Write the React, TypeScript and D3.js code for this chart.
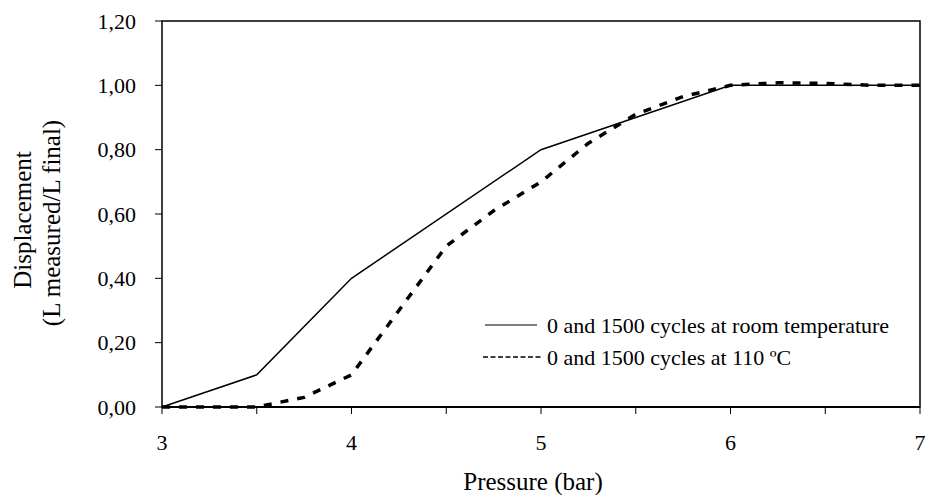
import React from "react";
import * as d3 from "d3";

const pressureRoom = [3, 3.5, 4, 5, 6, 7];
const dispRoom = [0, 0.1, 0.4, 0.8, 1.0, 1.0];

const pressureHot = [3, 3.25, 3.5, 3.75, 4, 4.25, 4.5, 4.75, 5, 5.25, 5.5, 5.75, 6, 6.25, 6.5, 6.75, 7];
const dispHot = [0, 0, 0, 0.03, 0.1, 0.3, 0.5, 0.61, 0.7, 0.82, 0.91, 0.965, 1.0, 1.008, 1.006, 1.0, 1.0];

const xTickLabels = [3, 4, 5, 6, 7];
const xMinorTicks = [3, 3.5, 4, 4.5, 5, 5.5, 6, 6.5, 7];
const yTicks = [0, 0.2, 0.4, 0.6, 0.8, 1.0, 1.2];
const legendLabels = ["0 and 1500 cycles at room temperature", "0 and 1500 cycles at 110 ºC"];

export default function App() {
  const W = 926, H = 495;
  const left = 162, right = 920, top = 21, bottom = 407;
  const x = d3.scaleLinear().domain([3, 7]).range([left, right]);
  const y = d3.scaleLinear().domain([0, 1.2]).range([bottom, top]);
  const line = d3.line<[number, number]>().x(d => x(d[0])).y(d => y(d[1]));
  const room = pressureRoom.map((p, i) => [p, dispRoom[i]] as [number, number]);
  const hot = pressureHot.map((p, i) => [p, dispHot[i]] as [number, number]);
  const font = "'Liberation Serif', 'Times New Roman', serif";
  const fmt = (v: number) => v.toFixed(2).replace(".", ",");
  const fs = 22;
  const ts = 25;
  return (
    <svg width={W} height={H} style={{ position: "absolute", left: 0, top: 0, background: "#fff" }} fontFamily={font}>
      <rect x={0} y={0} width={W} height={H} fill="#fff" />
      <rect x={left} y={top} width={right - left} height={bottom - top} fill="none" stroke="#000" strokeWidth={1.5} />
      <line x1={left} x2={right} y1={bottom} y2={bottom} stroke="#000" strokeWidth={2} />
      {xMinorTicks.map(t => (
        <line key={"xt" + t} x1={x(t)} x2={x(t)} y1={bottom} y2={bottom + 7} stroke="#000" strokeWidth={1} />
      ))}
      {xTickLabels.map(t => (
        <text key={"xl" + t} x={x(t)} y={450} fontSize={fs} textAnchor="middle">{t}</text>
      ))}
      {yTicks.map(t => (
        <g key={"y" + t}>
          <line x1={left - 7} x2={left} y1={y(t)} y2={y(t)} stroke="#000" strokeWidth={1} />
          <text x={136} y={y(t) + 7.5} fontSize={fs} textAnchor="end">{fmt(t)}</text>
        </g>
      ))}
      <text x={533} y={490} fontSize={ts} textAnchor="middle">Pressure (bar)</text>
      <text transform="translate(31,220) rotate(-90)" fontSize={ts} textAnchor="middle">Displacement</text>
      <text transform="translate(60,223) rotate(-90)" fontSize={ts} textAnchor="middle">(L measured/L final)</text>
      <path d={line(room) || ""} fill="none" stroke="#000" strokeWidth={1.5} />
      <path d={line(hot) || ""} fill="none" stroke="#000" strokeWidth={3.5} strokeDasharray="8,9" />
      <line x1={485} x2={537} y1={325} y2={325} stroke="#000" strokeWidth={1.2} />
      <text x={547} y={333} fontSize={fs}>{legendLabels[0]}</text>
      <line x1={483} x2={543} y1={357} y2={357} stroke="#000" strokeWidth={1.5} strokeDasharray="5,2.5" />
      <text x={547} y={365} fontSize={fs}>{legendLabels[1]}</text>
    </svg>
  );
}
